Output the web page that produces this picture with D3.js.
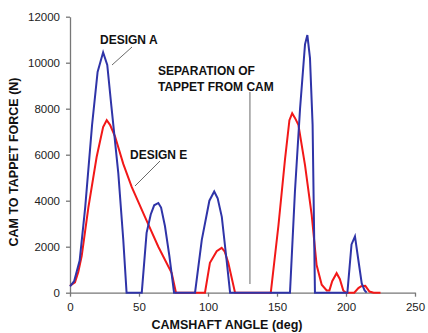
<!DOCTYPE html>
<html>
<head>
<meta charset="utf-8">
<script src="https://cdn.jsdelivr.net/npm/d3@7"></script>
<style>
  body { margin: 0; background: #fff; }
  text { font-family: "Liberation Sans", Arial, sans-serif; }
</style>
</head>
<body>
<svg id="chart" width="428" height="333"></svg>
<script>
// camshaft angle (deg), force (N)
const designA = [
  [0, 280], [3, 500], [7, 1400], [11, 3700], [16, 7300], [20, 9600], [24, 10450],
  [27, 9900], [30, 8100], [35, 5200], [38.6, 2300], [41, 0], [52, 0], [55.5, 2600],
  [58.5, 3400], [61, 3800], [64, 3900], [66, 3700], [68.8, 2900], [72, 1600],
  [75.4, 0], [90.6, 0], [95.5, 2300], [101, 4000], [104.5, 4400], [107, 4100],
  [110, 3300], [113.5, 1400], [116, 0], [159.4, 0], [163, 4400], [166.7, 8000],
  [170.3, 10800], [172, 11200], [173.9, 10200], [175.8, 7300], [176.8, 3000],
  [177.5, 0], [201, 0], [204, 2100], [206.5, 2450], [209, 1400], [211.4, 400],
  [213.5, 100], [215, 0]
];
const designE = [
  [0, 300], [3.6, 450], [6, 900], [8.5, 1600], [13.3, 3700], [19.3, 5900], [24, 7200],
  [26.6, 7500], [29, 7300], [32.6, 6800], [38.6, 5600], [44.7, 4600], [54.3, 3300],
  [64, 2000], [73.7, 850], [76.8, 0], [97.8, 0], [101.4, 1300], [106.3, 1800],
  [109.9, 1950], [112, 1800], [114.7, 1300], [119.6, 0], [145.5, 0], [151, 2900],
  [155.8, 5800], [159, 7500], [161, 7800], [163, 7600], [165.5, 7300], [170.3, 5550],
  [175.1, 3400], [178.7, 1200], [182.4, 350], [186, 100], [188, 100], [190, 500],
  [193.2, 850], [195.5, 600], [198, 100], [200, 0], [206, 0], [209, 200], [211, 280],
  [214, 300], [217, 50], [220, 0], [225, 0]
];
const xTicks = [0, 50, 100, 150, 200, 250];
const yTicks = [0, 2000, 4000, 6000, 8000, 10000, 12000];
const separationAngle = 130.4;

const svg = d3.select("#chart");
const x = d3.scaleLinear().domain([0, 250]).range([70, 415]);
const y = d3.scaleLinear().domain([0, 12000]).range([292.7, 16.7]);

const xAxis = svg.append("g")
  .attr("transform", `translate(0, ${y(0)})`)
  .call(d3.axisBottom(x).tickValues(xTicks).tickFormat(d3.format("d"))
    .tickSize(4).tickSizeOuter(0).tickPadding(6));
const yAxis = svg.append("g")
  .attr("transform", `translate(${x(0)}, 0)`)
  .call(d3.axisLeft(y).tickValues(yTicks).tickFormat(d3.format("d"))
    .tickSize(4).tickSizeOuter(0).tickPadding(6));
[xAxis, yAxis].forEach((g) => {
  g.selectAll("path, line").attr("stroke", "#777").attr("stroke-width", 1.3);
  g.selectAll("text").attr("font-size", 11.5).attr("fill", "#222")
    .attr("font-family", "Liberation Sans, Arial, sans-serif");
});

const line = d3.line().x((d) => x(d[0])).y((d) => y(d[1]));
svg.append("path").datum(designE).attr("d", line)
  .attr("fill", "none").attr("stroke", "#f21818").attr("stroke-width", 2);
svg.append("path").datum(designA).attr("d", line)
  .attr("fill", "none").attr("stroke", "#2f34a8").attr("stroke-width", 2);

// annotations
const label = (txt, px, py, anchor) => svg.append("text").text(txt)
  .attr("x", px).attr("y", py).attr("text-anchor", anchor || "start")
  .attr("font-size", 12).attr("font-weight", "bold").attr("fill", "#111");
label("DESIGN A", 100, 44);
label("DESIGN E", 130, 159);
label("SEPARATION OF", 158, 75);
label("TAPPET FROM CAM", 158, 91);

const lead = (x1, y1, x2, y2) => svg.append("line")
  .attr("x1", x1).attr("y1", y1).attr("x2", x2).attr("y2", y2)
  .attr("stroke", "#444").attr("stroke-width", 0.8);
lead(132, 47, 112, 65);
lead(160, 161, 135, 186);
lead(x(separationAngle), 92, x(separationAngle), 284);

svg.append("text").text("CAMSHAFT ANGLE (deg)")
  .attr("x", 227).attr("y", 329).attr("text-anchor", "middle")
  .attr("font-size", 12.5).attr("font-weight", "bold").attr("fill", "#111");
svg.append("text").text("CAM TO TAPPET FORCE (N)")
  .attr("transform", "translate(18, 162) rotate(-90)").attr("text-anchor", "middle")
  .attr("font-size", 12.5).attr("font-weight", "bold").attr("fill", "#111");
</script>
</body>
</html>
